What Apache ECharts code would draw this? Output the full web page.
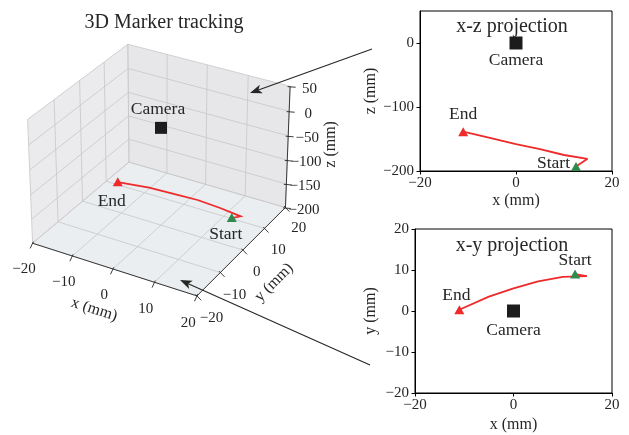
<!DOCTYPE html>
<html>
<head>
<meta charset="utf-8">
<script src="https://cdn.jsdelivr.net/npm/echarts@6/dist/echarts.min.js"></script>
<style>
  html, body { margin: 0; padding: 0; background: #ffffff; }
  #chart { width: 629px; height: 435px; }
</style>
</head>
<body>
<div id="chart"></div>
<script>
// ---- marker track (mm) ----
const trackX = [12.5, 14.9, 10.0, 5.0, 0.0, -5.0, -11.0];
const trackY = [9.0, 8.5, 8.3, 7.2, 5.5, 3.5, 0.3];
const trackZ = [-193, -181, -175, -166, -158, -149, -138.5];
const cameraPos = [0, 0, 0];

// ---- axis ranges and ticks ----
const xRange = [-20, 20];
const yRange = [-20, 20];
const zRange = [-200, 50];
const xTicks3d = [-20, -10, 0, 10, 20];
const yTicks3d = [-20, -10, 0, 10, 20];
const zTicks3d = [-200, -150, -100, -50, 0, 50];
const xzTicksX = [-20, 0, 20];
const xzTicksZ = [-200, -100, 0];
const xyTicksX = [-20, 0, 20];
const xyTicksY = [-20, -10, 0, 10, 20];

const FONT = '"Liberation Serif", "Times New Roman", serif';
const INK = '#262626';
const RED = '#ee2a2a';
const GREEN = '#2e8a4f';
const BLACK = '#1c1c1c';
const fmt = v => String(v).replace('-', '\u2212');

// ---- perspective projection (elevation 30°, azimuth -60°) ----
const VIEW = { elev: 30, azim: -60, dist: 10, box: [1, 1, 0.75] };
const project = (function (v) {
  const e = v.elev * Math.PI / 180, a = v.azim * Math.PI / 180;
  const w = [Math.cos(e) * Math.cos(a), Math.cos(e) * Math.sin(a), Math.sin(e)];
  const n = Math.hypot(w[0], w[1]);
  const u = [-w[1] / n, w[0] / n, 0];
  const up = [w[1] * u[2] - w[2] * u[1], w[2] * u[0] - w[0] * u[2], w[0] * u[1] - w[1] * u[0]];
  const dot = (p, r) => p[0] * r[0] + p[1] * r[1] + p[2] * r[2];
  const norm = (val, r, s) => (val - (r[0] + r[1]) / 2) / (r[1] - r[0]) * s;
  return function (x, y, z) {
    const q = [norm(x, xRange, v.box[0]), norm(y, yRange, v.box[1]), norm(z, zRange, v.box[2])];
    const depth = v.dist - dot(q, w);
    return [dot(q, u) / depth, dot(q, up) / depth];
  };
})(VIEW);

// screen scale of the projected plane
const PROJ_SCALE = 1885, PROJ_ORIGIN = [161, 165], W = 629, H = 435;

// label offsets (fractions of each axis span, pushed away from the box)
const NAME_F = 0.19;

function boxItem(params, api) {
  const P = (x, y, z) => api.coord(project(x, y, z));
  const kids = [];
  const [x0, x1] = xRange, [y0, y1] = yRange, [z0, z1] = zRange;
  const dx = x1 - x0, dy = y1 - y0, dz = z1 - z0;
  const poly = (pts, fill) => kids.push({ type: 'polygon', shape: { points: pts.map(p => P(...p)) },
    style: { fill: fill, stroke: '#f4f4f4', lineWidth: 0.8 } });
  const seg = (a, b, stroke, lw) => kids.push({ type: 'line', shape: (() => { const p = P(...a), q = P(...b);
    return { x1: p[0], y1: p[1], x2: q[0], y2: q[1] }; })(), style: { stroke: stroke, lineWidth: lw } });
  const text = (p, str, size, rot) => kids.push({ type: 'text', x: p[0], y: p[1], rotation: rot || 0,
    style: { text: str, fontFamily: FONT, fontSize: size, fill: INK, align: 'center', verticalAlign: 'middle' } });

  // panes
  poly([[x0, y0, z0], [x0, y1, z0], [x0, y1, z1], [x0, y0, z1]], '#ebebed');
  poly([[x0, y1, z0], [x1, y1, z0], [x1, y1, z1], [x0, y1, z1]], '#e7e7e9');
  poly([[x0, y0, z0], [x1, y0, z0], [x1, y1, z0], [x0, y1, z0]], '#eaeef0');

  // grid lines
  const gc = '#c6c6c6', gw = 0.8;
  xTicks3d.forEach(x => { seg([x, y0, z0], [x, y1, z0], gc, gw); seg([x, y1, z0], [x, y1, z1], gc, gw); });
  yTicks3d.forEach(y => { seg([x0, y, z0], [x1, y, z0], gc, gw); seg([x0, y, z0], [x0, y, z1], gc, gw); });
  zTicks3d.forEach(z => { seg([x0, y0, z], [x0, y1, z], gc, gw); seg([x0, y1, z], [x1, y1, z], gc, gw); });

  // axis lines
  seg([x0, y0, z0], [x1, y0, z0], INK, 0.9);
  seg([x1, y0, z0], [x1, y1, z0], INK, 0.9);
  seg([x1, y1, z0], [x1, y1, z1], INK, 0.9);

  // x axis ticks and labels
  xTicks3d.forEach(x => {
    seg([x, y0 + 0.008 * dy, z0 + 0.008 * dz], [x, y0 - 0.025 * dy, z0 - 0.025 * dz], INK, 0.9);
    text(P(x, y0 - 0.09 * dy, z0 - 0.15 * dz), fmt(x), 15);
  });
  // y axis ticks and labels
  yTicks3d.forEach(y => {
    seg([x1 - 0.008 * dx, y, z0 + 0.008 * dz], [x1 + 0.025 * dx, y, z0 - 0.025 * dz], INK, 0.9);
    text(P(x1 + 0.086 * dx, y, z0 - 0.145 * dz), fmt(y), 15);
  });
  // z axis ticks and labels
  zTicks3d.forEach(z => {
    seg([x1 - 0.01 * dx, y1 - 0.01 * dy, z], [x1 + 0.03 * dx, y1 + 0.005 * dy, z], INK, 0.9);
    text(P(x1 + 0.1 * dx, y1 + 0.027 * dy, z), fmt(z), 15);
  });

  // axis names, rotated along their axes
  const ang = (a, b) => { const p = P(...a), q = P(...b); return Math.atan2(-(q[1] - p[1]), q[0] - p[0]); };
  const xm = (x0 + x1) / 2, ym = (y0 + y1) / 2, zm = (z0 + z1) / 2;
  text(P(xm, y0 - NAME_F * dy, z0 - NAME_F * dz), 'x (mm)', 16, ang([x0, y0, z0], [x1, y0, z0]));
  text(P(x1 + NAME_F * dx, ym, z0 - NAME_F * dz), 'y (mm)', 16, ang([x1, y0, z0], [x1, y1, z0]));
  text(P(x1 + 0.185 * dx, y1 + 0.153 * dy, zm), 'z (mm)', 16, Math.PI / 2);

  return { type: 'group', children: kids };
}

const track3d = trackX.map((x, i) => [x, trackY[i], trackZ[i]]);

function trackItem(params, api) {
  if (params.dataIndex !== 0) return null;
  const pts = track3d.map(p => api.coord(project(...p)));
  return { type: 'polyline', shape: { points: pts }, style: { stroke: RED, lineWidth: 1.8, fill: null } };
}

// markers in 3D: [x, y, z] with shape, colour and text placement
const last = trackX.length - 1;
const markers3d = [
  { pos: cameraPos, shape: 'square', color: BLACK, text: 'Camera', off: [-3, -18] },
  { pos: track3d[last], shape: 'triangle', color: RED, text: 'End', off: [-6, 19] },
  { pos: track3d[0], shape: 'triangle', color: GREEN, text: 'Start', off: [-6, 16] }
];

function markerItem(params, api) {
  const m = markers3d[params.dataIndex];
  const c = api.coord(project(...m.pos));
  let shape;
  if (m.shape === 'square') {
    shape = { type: 'rect', shape: { x: c[0] - 6, y: c[1] - 6, width: 12, height: 12 }, style: { fill: m.color } };
  } else {
    shape = { type: 'polygon', shape: { points: [[c[0], c[1] - 5], [c[0] + 5, c[1] + 4], [c[0] - 5, c[1] + 4]] },
      style: { fill: m.color } };
  }
  return { type: 'group', children: [shape, { type: 'text', x: c[0] + m.off[0], y: c[1] + m.off[1],
    style: { text: m.text, fontFamily: FONT, fontSize: 17.5, fill: INK, align: 'center', verticalAlign: 'middle' } }] };
}

// ---- annotation arrows from the projection panels to the 3D panes ----
const arrows = [
  { from: [372, 49], to: [250, 93] },
  { from: [370, 365], to: [180, 280] }
];
const arrowGraphics = [];
arrows.forEach(a => {
  const ddx = a.to[0] - a.from[0], ddy = a.to[1] - a.from[1];
  const L = Math.hypot(ddx, ddy), ux = ddx / L, uy = ddy / L, nx = -uy, ny = ux;
  const hl = 12, hw = 4.5;
  const bx = a.to[0] - ux * hl, by = a.to[1] - uy * hl;
  arrowGraphics.push({ type: 'line', silent: true, z: 100,
    shape: { x1: a.from[0], y1: a.from[1], x2: a.to[0] - ux * 6, y2: a.to[1] - uy * 6 },
    style: { stroke: INK, lineWidth: 1.1 } });
  arrowGraphics.push({ type: 'polygon', silent: true, z: 100,
    shape: { points: [[a.to[0], a.to[1]], [bx + nx * hw, by + ny * hw], [a.to[0] - ux * 9, a.to[1] - uy * 9], [bx - nx * hw, by - ny * hw]] },
    style: { fill: INK } });
});

// ---- 2D panels ----
const textStyle = { fontFamily: FONT, fontSize: 15, color: INK };
function panelAxis(grid, min, max, ticks, name, gap, isY) {
  return {
    gridIndex: grid, type: 'value', min: min, max: max,
    name: name, nameLocation: 'middle', nameGap: gap, nameRotate: isY ? 90 : 0,
    nameTextStyle: { fontFamily: FONT, fontSize: 16, color: INK },
    axisLine: { show: true, onZero: false, lineStyle: { color: '#000', width: 1 } },
    axisTick: { show: true, length: 3.5, customValues: ticks, lineStyle: { color: '#000', width: 1 } },
    axisLabel: { show: true, margin: isY ? 6 : 5, customValues: ticks, formatter: fmt, ...textStyle },
    splitLine: { show: false }
  };
}

const labelBase = { show: true, fontFamily: FONT, fontSize: 17.5, color: INK };
function panelMarkers(gi, horiz, vert, placement) {
  return {
    type: 'scatter', xAxisIndex: gi, yAxisIndex: gi, z: 5,
    data: [
      { value: [cameraPos[0], cameraPos[vert]], symbol: 'rect', symbolSize: 13, itemStyle: { color: BLACK, opacity: 1 },
        label: { ...labelBase, formatter: 'Camera', ...placement.camera } },
      { value: [horiz[last], placement.v[last]], symbol: 'triangle', symbolSize: [10, 9], itemStyle: { color: RED, opacity: 1 },
        label: { ...labelBase, formatter: 'End', ...placement.end } },
      { value: [horiz[0], placement.v[0]], symbol: 'triangle', symbolSize: [10, 9], itemStyle: { color: GREEN, opacity: 1 },
        label: { ...labelBase, formatter: 'Start', ...placement.start } }
    ]
  };
}

const titleStyle = { fontFamily: FONT, fontSize: 20, fontWeight: 'normal', color: INK };
const chart = echarts.init(document.getElementById('chart'), null, { renderer: 'canvas' });
chart.setOption({
  animation: false,
  backgroundColor: '#ffffff',
  title: [
    { text: '3D Marker tracking', left: 159, top: 8, textAlign: 'center', textStyle: titleStyle },
    { text: 'x-z projection', left: 507, top: 12, textAlign: 'center', textStyle: titleStyle },
    { text: 'x-y projection', left: 507, top: 231, textAlign: 'center', textStyle: titleStyle }
  ],
  grid: [
    { left: 420, top: 11, width: 192, height: 160, show: true, borderColor: '#000', borderWidth: 1, containLabel: false },
    { left: 415, top: 229, width: 197, height: 164, show: true, borderColor: '#000', borderWidth: 1, containLabel: false },
    { left: 0, top: 0, width: W, height: H, show: false, containLabel: false }
  ],
  xAxis: [
    panelAxis(0, xRange[0], xRange[1], xzTicksX, 'x (mm)', 22, false),
    panelAxis(1, xRange[0], xRange[1], xyTicksX, 'x (mm)', 24, false),
    { gridIndex: 2, type: 'value', show: false,
      min: -PROJ_ORIGIN[0] / PROJ_SCALE, max: (W - PROJ_ORIGIN[0]) / PROJ_SCALE }
  ],
  yAxis: [
    panelAxis(0, zRange[0], zRange[1], xzTicksZ, 'z (mm)', 40, true),
    panelAxis(1, yRange[0], yRange[1], xyTicksY, 'y (mm)', 36, true),
    { gridIndex: 2, type: 'value', show: false,
      min: -(H - PROJ_ORIGIN[1]) / PROJ_SCALE, max: PROJ_ORIGIN[1] / PROJ_SCALE }
  ],
  graphic: arrowGraphics,
  series: [
    { type: 'custom', xAxisIndex: 2, yAxisIndex: 2, silent: true, clip: false,
      data: [[0, 0]], renderItem: boxItem, z: 1 },
    { type: 'custom', xAxisIndex: 2, yAxisIndex: 2, silent: true, clip: false,
      data: track3d, renderItem: trackItem, z: 2 },
    { type: 'custom', xAxisIndex: 2, yAxisIndex: 2, silent: true, clip: false,
      data: markers3d.map((m, i) => [i, 0]), renderItem: markerItem, z: 3 },
    { type: 'line', xAxisIndex: 0, yAxisIndex: 0, symbol: 'none', silent: true, z: 3,
      data: trackX.map((x, i) => [x, trackZ[i]]), lineStyle: { color: RED, width: 1.8 } },
    panelMarkers(0, trackX, 2, {
      v: trackZ,
      camera: { position: 'bottom', distance: 2 },
      end: { position: 'top', distance: 4 },
      start: { position: 'left', distance: 1, offset: [0, -3] }
    }),
    { type: 'line', xAxisIndex: 1, yAxisIndex: 1, symbol: 'none', silent: true, z: 3,
      data: trackX.map((x, i) => [x, trackY[i]]), lineStyle: { color: RED, width: 1.8 } },
    panelMarkers(1, trackX, 1, {
      v: trackY,
      camera: { position: 'bottom', distance: 4 },
      end: { position: 'top', distance: 1, offset: [-3, 0] },
      start: { position: 'top', distance: 0 }
    })
  ]
});
</script>
</body>
</html>
